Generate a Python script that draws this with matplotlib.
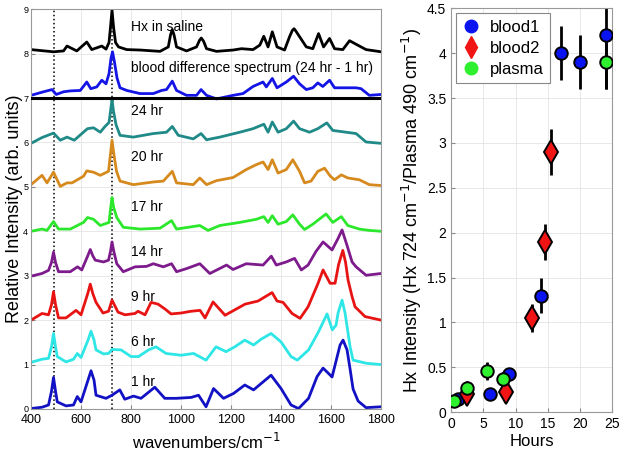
import matplotlib
matplotlib.use('Agg')
import matplotlib.pyplot as plt
from matplotlib.lines import Line2D

plt.rcParams['font.family'] = ['Liberation Sans', 'DejaVu Sans']

# ---------------- spectra (wavenumber, intensity) ----------------
wn_hx = [400, 490, 530, 544, 583, 623, 643, 683, 700, 712, 718, 724, 730, 738, 750, 783, 836, 916, 949, 958, 965,
         972, 982, 1022, 1062, 1074, 1081, 1090, 1102, 1142, 1208, 1242, 1288, 1315, 1331, 1348, 1365, 1384, 1414,
         1434, 1445, 1452, 1460, 1474, 1501, 1527, 1550, 1570, 1594, 1614, 1647, 1674, 1700, 1740, 1800]
hx_saline = [8.09, 8.04, 8.06, 8.17, 8.06, 8.26, 8.09, 8.17, 8.10, 8.25, 8.60, 8.98, 8.60, 8.25, 8.15, 8.09, 8.08,
             8.05, 8.15, 8.42, 8.54, 8.42, 8.15, 8.06, 8.15, 8.30, 8.35, 8.28, 8.11, 8.05, 8.08, 8.11, 8.09, 8.19,
             8.39, 8.15, 8.49, 8.15, 8.08, 8.38, 8.52, 8.56, 8.50, 8.38, 8.15, 8.11, 8.45, 8.15, 8.34, 8.11, 8.09,
             8.29, 8.21, 8.09, 8.04]

wn_diff = [400, 450, 484, 501, 530, 557, 597, 623, 639, 663, 683, 700, 712, 720, 726, 734, 744, 756, 783, 836,
           889, 922, 942, 965, 982, 1022, 1062, 1080, 1102, 1142, 1208, 1248, 1288, 1328, 1341, 1365, 1384, 1421,
           1450, 1474, 1501, 1527, 1547, 1567, 1594, 1614, 1647, 1700, 1720, 1753, 1800]
blood_diff = [7.06, 7.14, 7.19, 7.08, 7.14, 7.16, 7.17, 7.36, 7.21, 7.25, 7.40, 7.32, 7.55, 7.90, 8.04, 7.80, 7.45,
              7.23, 7.17, 7.10, 7.10, 7.17, 7.19, 7.38, 7.17, 7.06, 7.06, 7.19, 7.06, 6.98, 7.06, 7.10, 7.26, 7.36,
              7.25, 7.44, 7.23, 7.36, 7.49, 7.32, 7.19, 7.23, 7.34, 7.26, 7.40, 7.23, 7.23, 7.23, 7.21, 7.06, 7.08]

wn_24 = [400, 444, 490, 517, 544, 573, 626, 650, 677, 696, 712, 719, 724, 730, 740, 756, 809, 889, 942, 965, 989,
         1049, 1080, 1102, 1155, 1235, 1288, 1331, 1348, 1365, 1388, 1421, 1450, 1474, 1514, 1547, 1583, 1607,
         1660, 1700, 1740, 1800]
hr24 = [5.98, 6.11, 6.21, 6.05, 6.12, 6.05, 6.31, 6.33, 6.23, 6.36, 6.45, 6.75, 6.96, 6.70, 6.40, 6.16, 6.12, 6.20,
        6.23, 6.36, 6.16, 6.08, 6.20, 6.06, 6.12, 6.23, 6.31, 6.41, 6.23, 6.46, 6.23, 6.31, 6.48, 6.31, 6.23, 6.31,
        6.44, 6.27, 6.23, 6.20, 6.01, 5.98]

wn_20 = [400, 444, 464, 490, 517, 544, 564, 610, 623, 650, 677, 710, 718, 724, 731, 742, 756, 809, 889, 929, 965,
         982, 1049, 1075, 1102, 1142, 1208, 1261, 1301, 1328, 1348, 1365, 1388, 1421, 1447, 1474, 1494, 1520,
         1547, 1574, 1597, 1614, 1641, 1667, 1713, 1753, 1800]
hr20 = [5.05, 5.26, 5.09, 5.33, 5.01, 5.09, 5.09, 5.24, 5.36, 5.33, 5.26, 5.35, 5.75, 6.05, 5.75, 5.35, 5.13, 5.05,
        5.11, 5.13, 5.35, 5.09, 5.05, 5.20, 5.05, 5.14, 5.21, 5.39, 5.50, 5.56, 5.39, 5.61, 5.31, 5.39, 5.61, 5.35,
        5.09, 5.13, 5.35, 5.42, 5.24, 5.16, 5.27, 5.20, 5.16, 5.05, 5.03]

wn_17 = [400, 444, 464, 490, 510, 557, 610, 626, 650, 677, 712, 719, 724, 730, 743, 769, 836, 916, 962, 982, 1075,
         1108, 1155, 1235, 1301, 1331, 1348, 1365, 1388, 1421, 1447, 1474, 1494, 1527, 1580, 1607, 1641, 1667,
         1713, 1753, 1800]
hr17 = [4.00, 4.05, 4.02, 4.22, 4.05, 4.05, 4.20, 4.31, 4.27, 4.13, 4.20, 4.55, 4.76, 4.55, 4.31, 4.09, 4.05, 4.07,
        4.24, 4.05, 4.13, 4.02, 4.13, 4.20, 4.27, 4.33, 4.20, 4.35, 4.16, 4.22, 4.37, 4.16, 4.04, 4.16, 4.39, 4.20,
        4.33, 4.13, 4.05, 4.02, 4.00]

wn_14 = [400, 444, 470, 482, 490, 498, 510, 557, 586, 603, 627, 637, 647, 657, 690, 710, 718, 724, 731, 743, 769,
         816, 862, 889, 929, 962, 982, 1022, 1075, 1115, 1182, 1208, 1261, 1328, 1361, 1381, 1421, 1454, 1481,
         1508, 1540, 1568, 1604, 1628, 1644, 1664, 1684, 1700, 1740, 1800]
hr14 = [2.99, 3.05, 3.12, 3.30, 3.53, 3.30, 3.09, 3.09, 3.20, 3.13, 3.45, 3.59, 3.45, 3.35, 3.31, 3.35, 3.55, 3.76,
        3.55, 3.27, 3.09, 3.20, 3.21, 3.27, 3.20, 3.27, 3.09, 3.16, 3.27, 3.05, 3.24, 3.14, 3.27, 3.24, 3.44, 3.24,
        3.31, 3.39, 3.13, 3.24, 3.55, 3.76, 3.58, 3.84, 4.03, 3.68, 3.31, 3.20, 3.01, 3.05]

wn_9 = [400, 444, 470, 482, 490, 498, 510, 540, 580, 600, 627, 637, 647, 660, 688, 710, 724, 748, 776, 816, 828,
        856, 880, 908, 936, 960, 1000, 1040, 1076, 1096, 1128, 1176, 1256, 1308, 1364, 1384, 1408, 1444, 1476,
        1508, 1548, 1568, 1596, 1616, 1630, 1647, 1658, 1668, 1684, 1696, 1736, 1800]
hr9 = [2.00, 2.15, 2.12, 2.35, 2.64, 2.35, 2.05, 2.05, 2.22, 2.12, 2.60, 2.81, 2.60, 2.40, 2.16, 2.20, 2.45, 2.18,
       2.12, 2.15, 2.20, 2.12, 2.40, 2.36, 2.25, 2.14, 2.16, 2.20, 2.22, 2.05, 2.41, 2.11, 2.36, 2.43, 2.62, 2.43,
       2.40, 2.15, 2.04, 2.30, 2.83, 3.13, 2.83, 2.83, 3.25, 3.57, 3.30, 2.90, 2.53, 2.30, 2.08, 2.00]

wn_6 = [400, 444, 470, 482, 490, 498, 505, 540, 570, 585, 600, 628, 640, 652, 660, 690, 710, 724, 760, 800, 830,
        870, 900, 940, 1000, 1050, 1100, 1140, 1180, 1215, 1255, 1290, 1320, 1360, 1400, 1440, 1465, 1510, 1550,
        1584, 1605, 1620, 1628, 1644, 1656, 1676, 1688, 1740, 1800]
hr6 = [1.05, 1.12, 1.14, 1.40, 1.70, 1.40, 1.18, 1.06, 1.12, 1.25, 1.16, 1.55, 1.75, 1.55, 1.33, 1.24, 1.25, 1.34,
       1.33, 1.18, 1.18, 1.33, 1.40, 1.25, 1.21, 1.25, 1.10, 1.40, 1.29, 1.40, 1.55, 1.44, 1.57, 1.70, 1.51, 1.18,
       1.10, 1.33, 1.74, 2.14, 1.78, 1.89, 2.16, 2.45, 2.16, 1.40, 1.10, 1.03, 1.00]

wn_1 = [400, 444, 470, 482, 490, 498, 505, 540, 570, 585, 600, 628, 640, 652, 660, 700, 724, 755, 775, 810, 840,
        895, 935, 980, 1040, 1070, 1100, 1130, 1170, 1210, 1255, 1290, 1360, 1400, 1440, 1470, 1510, 1544, 1568,
        1588, 1604, 1636, 1648, 1664, 1676, 1688, 1708, 1740, 1800]
hr1 = [0.01, 0.04, 0.09, 0.40, 0.71, 0.40, 0.16, 0.07, 0.09, 0.28, 0.16, 0.65, 0.86, 0.65, 0.31, 0.24, 0.31, 0.43,
       0.22, 0.29, 0.24, 0.49, 0.24, 0.24, 0.26, 0.31, 0.05, 0.46, 0.24, 0.35, 0.54, 0.43, 0.76, 0.46, 0.09, 0.01,
       0.24, 0.73, 0.92, 0.81, 0.72, 1.44, 1.55, 1.33, 0.90, 0.45, 0.18, 0.03, 0.05]

spectra = [
    (wn_hx, hx_saline, 'black', 'Hx in saline', 8.6),
    (wn_diff, blood_diff, '#1414e6', 'blood difference spectrum (24 hr - 1 hr)', 7.68),
    (wn_24, hr24, '#1f8a87', '24 hr', 6.7),
    (wn_20, hr20, '#d68a1e', '20 hr', 5.68),
    (wn_17, hr17, '#2ce82c', '17 hr', 4.55),
    (wn_14, hr14, '#7d1a8c', '14 hr', 3.53),
    (wn_9, hr9, '#e81414', '9 hr', 2.53),
    (wn_6, hr6, '#2ee6e6', '6 hr', 1.51),
    (wn_1, hr1, '#1212c4', '1 hr', 0.61),
]

# ---------------- ratio vs time ----------------
blood1_t = [1, 6, 9, 14, 17, 20, 24]
blood1_v = [0.15, 0.20, 0.42, 1.30, 4.00, 3.90, 4.20]
blood1_e = [0.03, 0.03, 0.03, 0.20, 0.30, 0.30, 0.60]

blood2_t = [2.5, 8.5, 12.5, 14.5, 15.5]
blood2_v = [0.20, 0.22, 1.05, 1.90, 2.90]
blood2_e = [0.05, 0.05, 0.16, 0.20, 0.26]

plasma_t = [0.5, 2.5, 5.5, 8, 24]
plasma_v = [0.12, 0.27, 0.46, 0.37, 3.90]
plasma_e = [0.03, 0.08, 0.10, 0.08, 0.30]

fig = plt.figure(figsize=(6.24, 4.58), dpi=100)
ax1 = fig.add_axes([0.0497, 0.107, 0.561, 0.873])
ax2 = fig.add_axes([0.723, 0.100, 0.258, 0.882])

for ax in (ax1, ax2):
    ax.grid(True, color='#e4e4e4', linewidth=0.6)
    ax.set_axisbelow(True)
    ax.tick_params(direction='in', length=3, color='#888888')
    for sp in ax.spines.values():
        sp.set_color('#999999')
        sp.set_linewidth(0.8)

# left panel
ax1.axvline(490, color='black', linestyle=':', linewidth=1.1, zorder=1)
ax1.axvline(724, color='black', linestyle=':', linewidth=1.1, zorder=1)
for x, y, c, lab, ty in spectra:
    ax1.plot(x, y, color=c, linewidth=2.0, zorder=2, solid_joinstyle='round')
    ax1.text(800, ty, lab, fontsize=10, va='center', ha='left')
ax1.axhline(7, color='black', linewidth=2.2, zorder=3)

ax1.set_xlim(400, 1800)
ax1.set_ylim(0, 9)
ax1.set_xticks(range(400, 1801, 200))
ax1.set_yticks(range(0, 10))
ax1.tick_params(axis='x', labelsize=9)
ax1.tick_params(axis='y', labelsize=6.5, pad=2)
ax1.set_xlabel('wavenumbers/cm$^{-1}$', fontsize=12, labelpad=4)
ax1.set_ylabel('Relative Intensity (arb. units)', fontsize=13, labelpad=0)

# right panel
ekw = dict(fmt='none', ecolor='black', elinewidth=2, capsize=0, zorder=2)
ax2.errorbar(blood1_t, blood1_v, yerr=blood1_e, **ekw)
ax2.errorbar(blood2_t, blood2_v, yerr=blood2_e, **ekw)
ax2.errorbar(plasma_t, plasma_v, yerr=plasma_e, **ekw)
ax2.plot(blood1_t, blood1_v, 'o', color='#0a14f0', markeredgecolor='black', markeredgewidth=1.4,
         markersize=9, linestyle='none', zorder=3)
ax2.plot(blood2_t, blood2_v, 'd', color='#f01414', markeredgecolor='black', markeredgewidth=1.4,
         markersize=12, linestyle='none', zorder=3)
ax2.plot(plasma_t, plasma_v, 'o', color='#2ef02e', markeredgecolor='black', markeredgewidth=1.4,
         markersize=9, linestyle='none', zorder=4)

handles = [
    Line2D([], [], marker='o', color='#0a14f0', linestyle='none', markersize=9),
    Line2D([], [], marker='d', color='#f01414', linestyle='none', markersize=11),
    Line2D([], [], marker='o', color='#2ef02e', linestyle='none', markersize=9),
]
leg = ax2.legend(handles, ['blood1', 'blood2', 'plasma'], loc='upper left', fontsize=12,
                 fancybox=False, edgecolor='#888888', framealpha=1, handlelength=1.0,
                 handletextpad=0.6, borderpad=0.4, labelspacing=0.35,
                 bbox_to_anchor=(0.0, 1.0), borderaxespad=0.3)
leg.get_frame().set_linewidth(0.8)

ax2.set_xlim(0, 25)
ax2.set_ylim(0, 4.5)
ax2.set_xticks([0, 5, 10, 15, 20, 25])
ax2.set_yticks([0, 0.5, 1, 1.5, 2, 2.5, 3, 3.5, 4, 4.5])
ax2.set_yticklabels(['0', '0.5', '1', '1.5', '2', '2.5', '3', '3.5', '4', '4.5'])
ax2.tick_params(labelsize=10)
ax2.set_xlabel('Hours', fontsize=12, labelpad=2)
ax2.set_ylabel('Hx Intensity (Hx 724 cm$^{-1}$/Plasma 490 cm$^{-1}$)', fontsize=13, labelpad=2)

fig.savefig('out.png', dpi=100)
